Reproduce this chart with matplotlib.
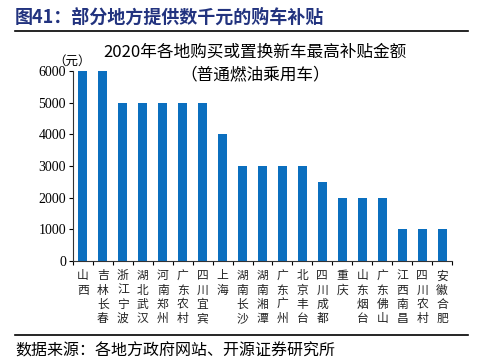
import matplotlib.pyplot as plt
import numpy as np

plt.rcParams['font.family'] = ['Noto Sans CJK SC', 'DejaVu Sans']

# data
regions = ['山西', '吉林长春', '浙江宁波', '湖北武汉', '河南郑州', '广东农村',
           '四川宜宾', '上海', '湖南长沙', '湖南湘潭', '广东广州', '北京丰台',
           '四川成都', '重庆', '山东烟台', '广东佛山', '江西南昌', '四川农村',
           '安徽合肥']
subsidy = [6000, 6000, 5000, 5000, 5000, 5000, 5000, 4000, 3000, 3000, 3000,
           3000, 2500, 2000, 2000, 2000, 1000, 1000, 1000]
y_ticks = [0, 1000, 2000, 3000, 4000, 5000, 6000]

fig = plt.figure(figsize=(5, 3.6), dpi=100)
ax = fig.add_axes([0.146, 0.275, 0.758, 0.528])

x = np.arange(len(regions))
ax.bar(x, subsidy, width=0.45, color='#0B6FBF')

ax.set_xlim(-0.5, len(regions) - 0.5)
ax.set_ylim(0, 6000)
ax.set_yticks(y_ticks)
ax.set_yticklabels([str(v) for v in y_ticks], family='Liberation Serif', fontsize=10)
ax.set_xticks(x)
ax.set_xticklabels(['\n'.join(r) for r in regions], fontsize=8.5, linespacing=1.12,
                   va='top', color='#222222')
ax.set_xticks(np.arange(-0.5, len(regions)), minor=True)
ax.tick_params(axis='x', which='major', length=0, pad=6)
ax.tick_params(axis='x', which='minor', length=3, width=0.8)
ax.tick_params(axis='y', length=3, width=0.8, pad=2)

for s in ['top', 'right']:
    ax.spines[s].set_visible(False)
for s in ['left', 'bottom']:
    ax.spines[s].set_linewidth(0.8)
    ax.spines[s].set_color('#333333')

ax.text(-0.55, 6100, '（元）', fontsize=9, ha='center', va='bottom')

# titles
fig.text(0.03, 0.952, '图41：部分地方提供数千元的购车补贴', fontsize=13,
         fontweight='bold', color='#22337F', va='center')
fig.add_artist(plt.Line2D([0.03, 0.936], [0.913, 0.913], color='black', lw=1.2))
fig.text(0.51, 0.855, '2020年各地购买或置换新车最高补贴金额', fontsize=12,
         ha='center', va='center')
fig.text(0.51, 0.793, '（普通燃油乘用车）', fontsize=12, ha='center', va='center')

fig.add_artist(plt.Line2D([0.03, 0.936], [0.07, 0.07], color='black', lw=1.2))
fig.text(0.03, 0.024, '数据来源：各地方政府网站、开源证券研究所', fontsize=11.5,
         va='center')

fig.savefig('out.png', dpi=100)
